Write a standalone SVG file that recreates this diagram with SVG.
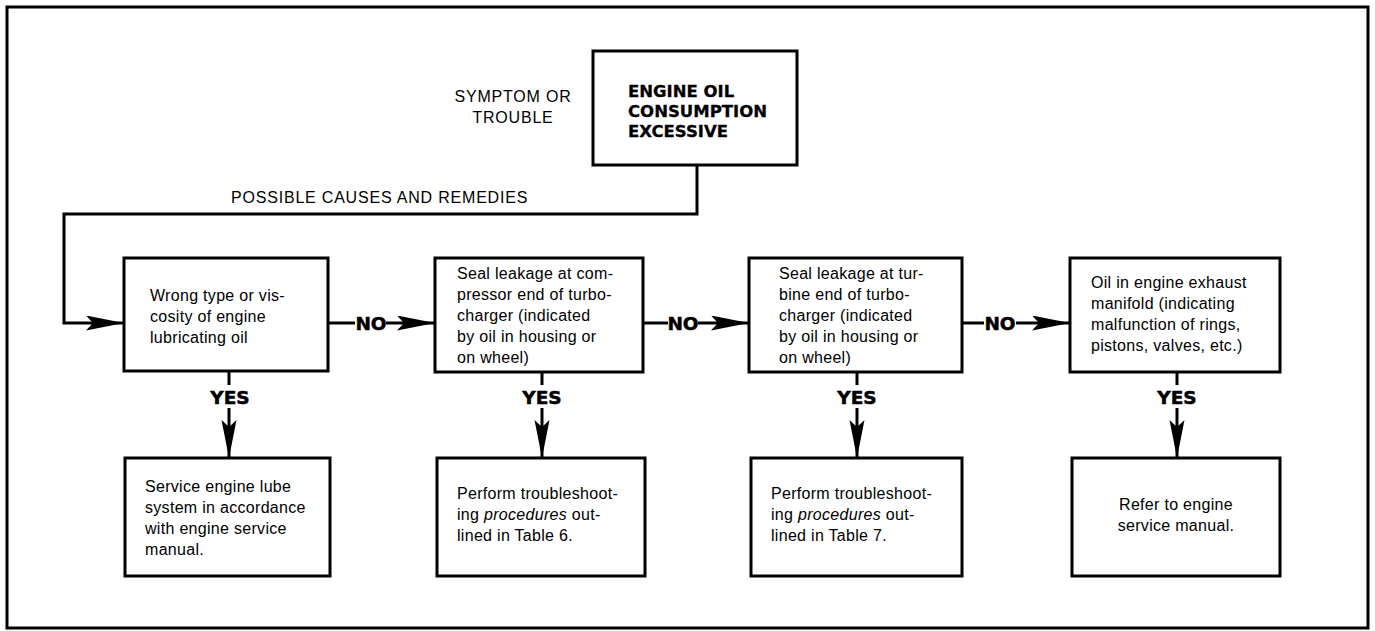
<svg xmlns="http://www.w3.org/2000/svg" width="1375" height="631" viewBox="0 0 1375 631">
<defs>
<style>
.frame{fill:none;stroke:#000;stroke-width:3}
.box{fill:#fff;stroke:#000;stroke-width:3}
.line{fill:none;stroke:#000;stroke-width:3}
.t{font-family:"Liberation Sans",Arial,sans-serif;font-size:16px;fill:#000;letter-spacing:0.3px}
.cap{font-family:"Liberation Sans",Arial,sans-serif;font-size:16px;fill:#000;letter-spacing:0.8px}
.title{font-family:"DejaVu Sans",sans-serif;font-weight:bold;font-size:16.5px;fill:#000;stroke:#000;stroke-width:0.3}
.lbl{font-family:"DejaVu Sans",sans-serif;font-weight:bold;font-size:18.5px;fill:#000;stroke:#000;stroke-width:0.5;text-anchor:middle}
.it{font-style:italic}
</style>
<marker id="ah" markerUnits="userSpaceOnUse" markerWidth="40" markerHeight="16" refX="38" refY="7.5" orient="auto">
<path d="M0,0 L38,7.5 L0,15 L7,7.5 Z" fill="#000"/>
</marker>
</defs>
<rect class="frame" x="7" y="7" width="1361" height="621"/>

<text class="cap" x="513" y="102" text-anchor="middle">SYMPTOM OR</text>
<text class="cap" x="513" y="123" text-anchor="middle">TROUBLE</text>
<text class="cap" x="231" y="203">POSSIBLE CAUSES AND REMEDIES</text>

<g id="connectors">
<polyline class="line" points="697,165 697,214 64,214 64,323 124,323" marker-end="url(#ah)"/>
<line class="line" x1="328" y1="323" x2="355" y2="323"/>
<line class="line" x1="386" y1="323" x2="435" y2="323" marker-end="url(#ah)"/>
<text class="lbl" x="371" y="330">NO</text>
<line class="line" x1="643" y1="323" x2="668" y2="323"/>
<line class="line" x1="698" y1="323" x2="749" y2="323" marker-end="url(#ah)"/>
<text class="lbl" x="683" y="330">NO</text>
<line class="line" x1="962" y1="323" x2="984" y2="323"/>
<line class="line" x1="1016" y1="323" x2="1070" y2="323" marker-end="url(#ah)"/>
<text class="lbl" x="1000" y="330">NO</text>

<line class="line" x1="229" y1="371" x2="229" y2="385"/>
<text class="lbl" x="230" y="404">YES</text>
<line class="line" x1="229" y1="408" x2="229" y2="458" marker-end="url(#ah)"/>
<line class="line" x1="542" y1="372" x2="542" y2="385"/>
<text class="lbl" x="542" y="404">YES</text>
<line class="line" x1="542" y1="408" x2="542" y2="458" marker-end="url(#ah)"/>
<line class="line" x1="857" y1="372" x2="857" y2="385"/>
<text class="lbl" x="857" y="404">YES</text>
<line class="line" x1="857" y1="408" x2="857" y2="458" marker-end="url(#ah)"/>
<line class="line" x1="1177" y1="372" x2="1177" y2="385"/>
<text class="lbl" x="1177" y="404">YES</text>
<line class="line" x1="1177" y1="408" x2="1177" y2="458" marker-end="url(#ah)"/>
</g>

<g id="symptom">
<rect class="box" x="593" y="51" width="204" height="114"/>
<text class="title" x="628" y="97">ENGINE OIL</text>
<text class="title" x="628" y="117">CONSUMPTION</text>
<text class="title" x="628" y="137">EXCESSIVE</text>
</g>

<g id="cause1">
<rect class="box" x="124" y="258" width="204" height="113"/>
<text class="t" x="150" y="301">Wrong type or vis-</text>
<text class="t" x="150" y="322">cosity of engine</text>
<text class="t" x="150" y="343">lubricating oil</text>
</g>

<g id="cause2">
<rect class="box" x="435" y="258" width="208" height="114"/>
<text class="t" x="457" y="279">Seal leakage at com-</text>
<text class="t" x="457" y="300">pressor end of turbo-</text>
<text class="t" x="457" y="321">charger (indicated</text>
<text class="t" x="457" y="342">by oil in housing or</text>
<text class="t" x="457" y="363">on wheel)</text>
</g>

<g id="cause3">
<rect class="box" x="749" y="258" width="213" height="114"/>
<text class="t" x="779" y="279">Seal leakage at tur-</text>
<text class="t" x="779" y="300">bine end of turbo-</text>
<text class="t" x="779" y="321">charger (indicated</text>
<text class="t" x="779" y="342">by oil in housing or</text>
<text class="t" x="779" y="363">on wheel)</text>
</g>

<g id="cause4">
<rect class="box" x="1070" y="258" width="210" height="114"/>
<text class="t" x="1091" y="288">Oil in engine exhaust</text>
<text class="t" x="1091" y="309">manifold (indicating</text>
<text class="t" x="1091" y="330">malfunction of rings,</text>
<text class="t" x="1091" y="351">pistons, valves, etc.)</text>
</g>

<g id="remedy1">
<rect class="box" x="125" y="458" width="205" height="118"/>
<text class="t" x="145" y="492">Service engine lube</text>
<text class="t" x="145" y="513">system in accordance</text>
<text class="t" x="145" y="534">with engine service</text>
<text class="t" x="145" y="555">manual.</text>
</g>

<g id="remedy2">
<rect class="box" x="437" y="458" width="208" height="118"/>
<text class="t" x="457" y="499">Perform troubleshoot-</text>
<text class="t" x="457" y="520">ing <tspan class="it">procedures</tspan> out-</text>
<text class="t" x="457" y="541">lined in Table 6.</text>
</g>

<g id="remedy3">
<rect class="box" x="751" y="458" width="211" height="118"/>
<text class="t" x="771" y="499">Perform troubleshoot-</text>
<text class="t" x="771" y="520">ing <tspan class="it">procedures</tspan> out-</text>
<text class="t" x="771" y="541">lined in Table 7.</text>
</g>

<g id="remedy4">
<rect class="box" x="1072" y="458" width="208" height="118"/>
<text class="t" x="1176" y="510" text-anchor="middle">Refer to engine</text>
<text class="t" x="1176" y="531" text-anchor="middle">service manual.</text>
</g>
</svg>
